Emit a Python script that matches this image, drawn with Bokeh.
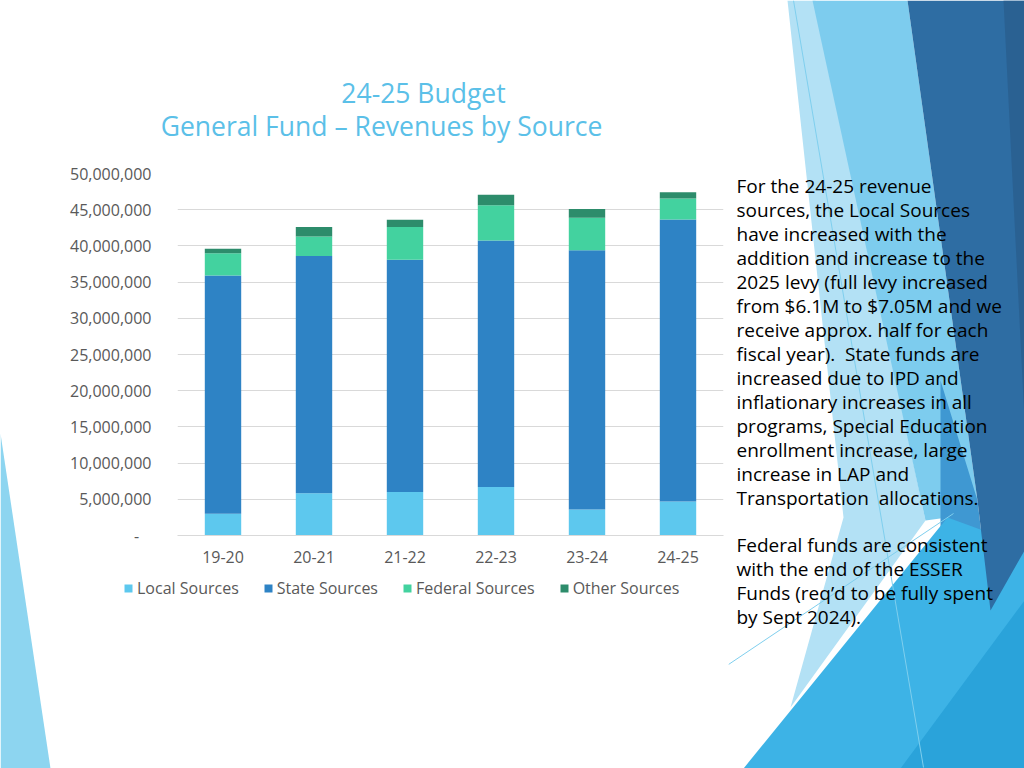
from bokeh.plotting import figure
from bokeh.layouts import row, column
from bokeh.models import (ColumnDataSource, Legend, LegendItem,
                          NumeralTickFormatter, FixedTicker, Range1d)
from bokeh.core.properties import value
from bokeh.embed import file_html
from bokeh.resources import INLINE

# ---------------- data ----------------
years = ["19-20", "20-21", "21-22", "22-23", "23-24", "24-25"]
local_sources = [3.0e6, 5.85e6, 6.0e6, 6.7e6, 3.6e6, 4.7e6]
state_sources = [32.9e6, 32.75e6, 32.1e6, 34.05e6, 35.8e6, 38.95e6]
federal_sources = [3.1e6, 2.7e6, 4.5e6, 4.85e6, 4.5e6, 2.9e6]
other_sources = [0.6e6, 1.3e6, 1.0e6, 1.45e6, 1.2e6, 0.85e6]
series = ["Local Sources", "State Sources", "Federal Sources", "Other Sources"]
colors = ["#5DC8EE", "#2E83C5", "#43D29F", "#2D8C6B"]
y_ticks = [0, 5e6, 10e6, 15e6, 20e6, 25e6, 30e6, 35e6, 40e6, 45e6, 50e6]

title_1 = "24-25 Budget"
title_2 = "General Fund \u2013 Revenues by Source"
NB = "\u00a0"
notes = [
    "For the 24-25 revenue",
    "sources, the Local Sources",
    "have increased with the",
    "addition and increase to the",
    "2025 levy (full levy increased",
    "from $6.1M to $7.05M and we",
    "receive approx. half for each",
    "fiscal year)." + NB + " State funds are",
    "increased due to IPD and",
    "inflationary increases in all",
    "programs, Special Education",
    "enrollment increase, large",
    "increase in LAP and",
    "Transportation" + NB + " allocations.",
    "",
    "Federal funds are consistent",
    "with the end of the ESSER",
    "Funds (req\u2019d to be fully spent",
    "by Sept 2024).",
]

FONT = "Open Sans"
H = 768
LEFT_W, MID_W, RIGHT_W = 60, 668, 296
X0_MID = LEFT_W
X0_RIGHT = LEFT_W + MID_W
TOP_H, CHART_H = 150, 425
BOT_H = H - TOP_H - CHART_H
Y0_BOT = TOP_H + CHART_H


def plain_fig(width, height, x0, y0):
    f = figure(width=width, height=height, output_backend="svg", toolbar_location=None,
               x_range=Range1d(x0, x0 + width), y_range=Range1d(y0 + height, y0),
               x_axis_type=None, y_axis_type=None, frame_align=False,
               min_border_left=0, min_border_right=0, min_border_top=0, min_border_bottom=0)
    f.grid.visible = False
    f.outline_line_color = None
    f.background_fill_color = "white"
    f.border_fill_color = "white"
    return f


# ---------- left decorative strip ----------
left = plain_fig(LEFT_W, H, 0, 0)
left.patch([0, 50, 0], [433, 768, 768], fill_color="#8DD5F0", line_color=None)

# ---------- title block ----------
top = plain_fig(MID_W, TOP_H, X0_MID, 0)
top.text(x=[423, 381], y=[92, 125], text=[title_1, title_2], text_font=value(FONT),
         text_font_size=value("26.5px"), text_color="#5BC0E8",
         text_align="center", text_baseline="middle")

# ---------- chart ----------
source = ColumnDataSource(dict(years=years, local=local_sources, state=state_sources,
                               federal=federal_sources, other=other_sources))

p = figure(x_range=years, width=MID_W, height=CHART_H, output_backend="svg",
           toolbar_location=None, frame_align=False,
           min_border_left=177 - X0_MID, min_border_right=X0_RIGHT - 723,
           min_border_top=173 - TOP_H, min_border_bottom=Y0_BOT - 535)
p.y_range = Range1d(0, 50e6)
p.outline_line_color = None
p.background_fill_color = "white"
p.border_fill_color = "white"

p.vbar_stack(["local", "state", "federal", "other"], x="years", width=0.4,
             color=colors, source=source, line_color=None)

p.xgrid.grid_line_color = None
p.ygrid.grid_line_color = "#D9D9D9"
p.ygrid.ticker = FixedTicker(ticks=y_ticks)
p.yaxis.ticker = FixedTicker(ticks=y_ticks)
p.yaxis.formatter = NumeralTickFormatter(format="0,0")
p.yaxis.major_label_overrides = {0: "-   "}
p.yaxis.axis_line_color = None
p.yaxis.major_tick_line_color = None
p.yaxis.minor_tick_line_color = None
p.yaxis.major_label_standoff = 20
p.xaxis.axis_line_color = "#D9D9D9"
p.xaxis.major_tick_line_color = None
p.xaxis.major_label_standoff = 9
for ax in (p.xaxis, p.yaxis):
    ax.major_label_text_font = FONT
    ax.major_label_text_font_size = "16px"
    ax.major_label_text_color = "#595959"

# ---------- legend block (swatch proxies, placed outside the visible range) ----------
bot = plain_fig(MID_W, BOT_H, X0_MID, Y0_BOT)
swatches = [bot.rect(x=[X0_MID - 100], y=[Y0_BOT - 100], width=1, height=1,
                     fill_color=c, line_color=None) for c in colors]
legend = Legend(items=[LegendItem(label=s, renderers=[rr]) for s, rr in zip(series, swatches)],
                orientation="horizontal", location=(123 - X0_MID, BOT_H - 24),
                glyph_width=10, glyph_height=10, label_standoff=4, spacing=24,
                padding=0, margin=0, border_line_color=None, background_fill_alpha=0,
                label_text_font=FONT, label_text_font_size="16px",
                label_text_color="#595959")
bot.add_layout(legend, "center")

# ---------- right panel: slide decoration + notes ----------
r = plain_fig(RIGHT_W, H, X0_RIGHT, 0)
shapes = [
    ([787, 815, 925, 790, 843], [0, 0, 520, 707, 517], "#B3E1F5"),
    ([812, 907, 977, 947, 925], [0, 0, 500, 517, 520], "#7DCCEE"),
    ([940, 977, 990, 1024, 1024, 940], [380, 500, 610, 550, 768, 768], "#3F98D2"),
    ([743, 947, 1024, 1024], [768, 517, 545, 768], "#3DB3E6"),
    ([907, 1024, 1024, 990, 977], [0, 0, 550, 610, 500], "#2E6DA3"),
    ([1003, 1024, 1024], [0, 0, 420], "#2A6192"),
    ([900, 1024, 1024], [768, 600, 768], "#2AA3DA"),
]
for xs, ys, col in shapes:
    r.patch(xs, ys, fill_color=col, line_color=None)
r.line([793, 923], [0, 767], line_color="#7FCFEE", line_width=1)
r.line([728, 953], [664, 513], line_color="#7FCFEE", line_width=1)

note_y = []
for i, line in enumerate(notes):
    note_y.append(185 + i * 24 - (1 if i > 14 else 0))
keep = [i for i, t in enumerate(notes) if t]
r.text(x=[736] * len(keep), y=[note_y[i] for i in keep], text=[notes[i] for i in keep],
       text_font=value(FONT), text_font_size=value("19px"), text_color="#000000",
       text_baseline="middle", text_align="left")

layout = row(left, column(top, p, bot, spacing=0), r, spacing=0)
open("out.html", "w").write(file_html(layout, INLINE))
